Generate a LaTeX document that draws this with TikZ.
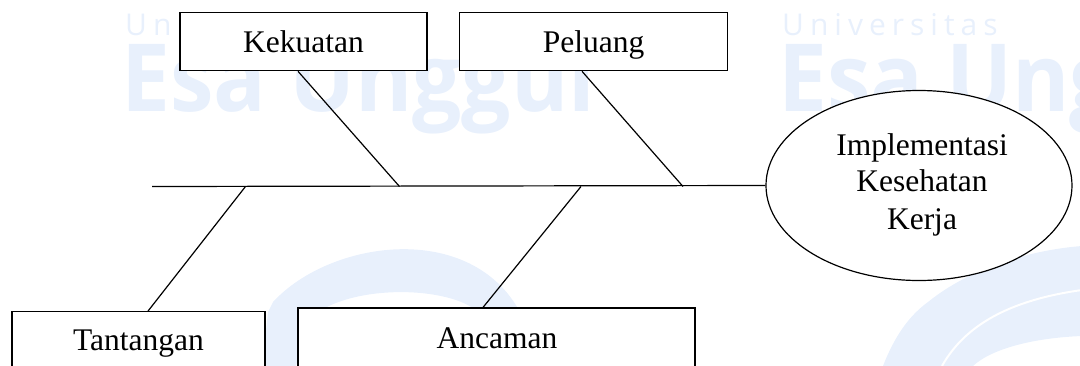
\documentclass[tikz,border=0pt]{standalone}
\usepackage{fontspec}
\setmainfont{Liberation Serif}
\newfontfamily\wmfont{Open Sans}
\newfontfamily\wmspaced[LetterSpace=20]{Open Sans}
\usetikzlibrary{shapes.geometric}
\definecolor{wm}{RGB}{232,240,252}
\tikzset{
  box/.style={draw, line width=1.2pt, fill=white, rectangle, inner sep=0pt},
  goalshape/.style={draw, line width=1.2pt, fill=white, ellipse, inner sep=0pt},
  lbl/.style={anchor=base, inner sep=0pt, font=\fontsize{31.5}{37}\selectfont},
  bone/.style={line width=1.2pt},
  wmsmall/.style={anchor=base west, inner sep=0pt, text=wm, font=\wmspaced\fontsize{30}{30}\selectfont},
  wmbig/.style={anchor=base west, inner sep=0pt, text=wm, font=\wmfont\bfseries\fontsize{94}{94}\selectfont},
  wmfill/.style={fill=wm, draw=none},
}
\begin{document}
\begin{tikzpicture}[x=1pt,y=-1pt]
\useasboundingbox (0,0) rectangle (1080,365);
\clip (0,0) rectangle (1080,365);

% background watermark
\node[wmsmall] (wmu1) at (125,35) {Universitas};
\node[wmsmall] (wmu2) at (782,35) {Universitas};
\node[wmbig] (wme1) at (121,111) {\scalebox{0.93}[1]{Esa Unggul}};
\node[wmbig] (wme2) at (778,111) {\scalebox{0.93}[1]{Esa Unggul}};
\path[wmfill] (262,366) -- (268,312) -- (273,302)
  .. controls (330,240) and (470,220) .. (520,312)
  -- (478,312) .. controls (450,286) and (350,283) .. (310,318)
  -- (296,366) -- cycle;
\path[wmfill] (883,366) .. controls (895,335) and (910,315) .. (928,302)
  .. controls (970,268) and (1030,250) .. (1082,246)
  -- (1082,336) .. controls (1030,338) and (990,350) .. (973,366) -- cycle;
\draw[white, line width=2pt] (942,366) .. controls (965,325) and (1010,300) .. (1082,290);

% cause boxes and effect
\node[box, minimum width=247pt, minimum height=58pt] (kek) at (303.5,41.7) {};
\node[box, minimum width=268pt, minimum height=58pt] (pel) at (593.6,41.7) {};
\node[box, minimum width=253pt, minimum height=73.3pt] (tan) at (138.5,348.35) {};
\node[box, minimum width=397pt, minimum height=77pt] (anc) at (496.5,346.5) {};
\node[goalshape, minimum width=306pt, minimum height=190pt] (goal) at (919,185.5) {};

\node[lbl] (kek-t) at (303.5,52.3) {Kekuatan};
\node[lbl] (pel-t) at (593.6,52.3) {Peluang};
\node[lbl] (tan-t) at (138.5,350.5) {Tantangan};
\node[lbl] (anc-t) at (497,348.3) {Ancaman};
\node[lbl] (g1) at (922,155) {Implementasi};
\node[lbl] (g2) at (922,191.7) {Kesehatan};
\node[lbl] (g3) at (922,229) {Kerja};

% spine and bones
\coordinate (tail) at (152,186.5);
\coordinate (j-tan) at (245.5,186.5);
\coordinate (j-kek) at (399.5,186.5);
\coordinate (j-anc) at (581,186.5);
\coordinate (j-pel) at (683,186.5);
\draw[bone] (tail) -- (goal.west);
\draw[bone] (298,0 |- kek.south) -- (j-kek);
\draw[bone] (582,0 |- pel.south) -- (j-pel);
\draw[bone] (j-tan) -- (148,0 |- tan.north);
\draw[bone] (j-anc) -- (483,0 |- anc.north);
\end{tikzpicture}
\end{document}
